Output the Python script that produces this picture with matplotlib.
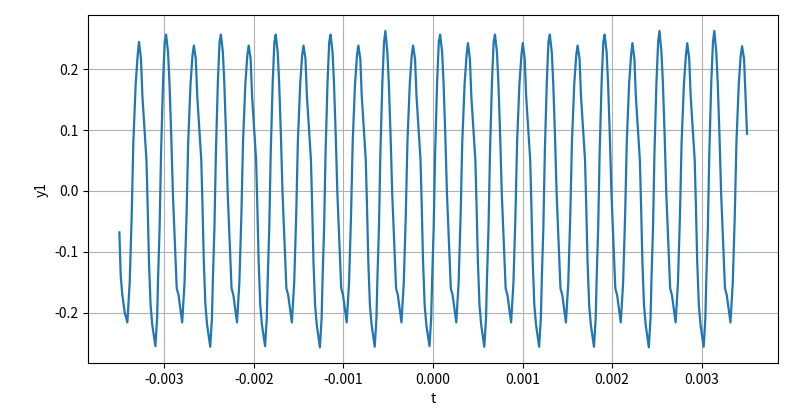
import matplotlib.pyplot as plt
import numpy as np

plt.rcParams['font.family'] = ['Noto Sans CJK SC', 'DejaVu Sans']
plt.rcParams['axes.unicode_minus'] = False

# 时间 (ms), 逐周期读取
t_ms = [
    -3.500, -3.485, -3.467, -3.440,
    -3.411, -3.385, -3.363, -3.344, -3.318, -3.296, -3.281, -3.259, -3.243, -3.214, -3.198, -3.185, -3.170, -3.152, -3.133, -3.098,
    -3.079, -3.068, -3.051, -3.035, -3.013, -2.994, -2.979, -2.957, -2.941, -2.921, -2.903, -2.880, -2.860, -2.840, -2.814,
    -2.799, -2.773, -2.751, -2.732, -2.706, -2.684, -2.669, -2.647, -2.631, -2.602, -2.586, -2.573, -2.558, -2.540, -2.521, -2.486,
    -2.467, -2.456, -2.439, -2.423, -2.401, -2.382, -2.367, -2.345, -2.329, -2.309, -2.291, -2.268, -2.248, -2.228, -2.202,
    -2.187, -2.161, -2.139, -2.120, -2.094, -2.072, -2.057, -2.035, -2.019, -1.990, -1.974, -1.961, -1.946, -1.928, -1.909, -1.874,
    -1.855, -1.844, -1.827, -1.811, -1.789, -1.770, -1.755, -1.733, -1.717, -1.697, -1.679, -1.656, -1.636, -1.616, -1.590,
    -1.575, -1.549, -1.527, -1.508, -1.482, -1.460, -1.445, -1.423, -1.407, -1.378, -1.362, -1.349, -1.334, -1.316, -1.297, -1.262,
    -1.243, -1.232, -1.215, -1.199, -1.177, -1.158, -1.143, -1.121, -1.105, -1.085, -1.067, -1.044, -1.024, -1.004, -0.978,
    -0.963, -0.937, -0.915, -0.896, -0.870, -0.848, -0.833, -0.811, -0.795, -0.766, -0.750, -0.737, -0.722, -0.704, -0.685, -0.650,
    -0.631, -0.620, -0.603, -0.587, -0.565, -0.546, -0.531, -0.509, -0.493, -0.473, -0.455, -0.432, -0.412, -0.392, -0.366,
    -0.352, -0.326, -0.304, -0.285, -0.259, -0.237, -0.222, -0.200, -0.184, -0.155, -0.139, -0.126, -0.111, -0.093, -0.074, -0.039,
    -0.020, -0.009, 0.008, 0.024, 0.046, 0.065, 0.080, 0.102, 0.118, 0.138, 0.156, 0.179, 0.199, 0.219, 0.245,
    0.260, 0.286, 0.308, 0.327, 0.353, 0.375, 0.390, 0.412, 0.428, 0.457, 0.473, 0.486, 0.501, 0.519, 0.538, 0.573,
    0.592, 0.603, 0.620, 0.636, 0.658, 0.677, 0.692, 0.714, 0.730, 0.750, 0.768, 0.791, 0.811, 0.831, 0.857,
    0.872, 0.898, 0.920, 0.939, 0.965, 0.987, 1.002, 1.024, 1.040, 1.069, 1.085, 1.098, 1.113, 1.131, 1.150, 1.185,
    1.204, 1.215, 1.232, 1.248, 1.270, 1.289, 1.304, 1.326, 1.342, 1.362, 1.380, 1.403, 1.423, 1.443, 1.469,
    1.484, 1.510, 1.532, 1.551, 1.577, 1.599, 1.614, 1.636, 1.652, 1.681, 1.697, 1.710, 1.725, 1.743, 1.762, 1.797,
    1.816, 1.827, 1.844, 1.860, 1.882, 1.901, 1.916, 1.938, 1.954, 1.974, 1.992, 2.015, 2.035, 2.055, 2.081,
    2.096, 2.122, 2.144, 2.163, 2.189, 2.211, 2.226, 2.248, 2.264, 2.293, 2.309, 2.322, 2.337, 2.355, 2.374, 2.409,
    2.428, 2.439, 2.456, 2.472, 2.494, 2.513, 2.528, 2.550, 2.566, 2.586, 2.604, 2.627, 2.647, 2.667, 2.693,
    2.708, 2.734, 2.756, 2.775, 2.801, 2.823, 2.838, 2.860, 2.876, 2.905, 2.921, 2.934, 2.949, 2.967, 2.986, 3.021,
    3.040, 3.051, 3.068, 3.084, 3.106, 3.125, 3.140, 3.162, 3.178, 3.198, 3.216, 3.239, 3.259, 3.279, 3.305,
    3.320, 3.346, 3.368, 3.387, 3.413, 3.435, 3.450, 3.472, 3.488, 3.505,
]

y1 = [
    -0.068, -0.140, -0.171, -0.200,
    -0.216, -0.151, -0.043, 0.081, 0.176, 0.223, 0.245, 0.217, 0.156, 0.090, 0.051, -0.021, -0.115, -0.187, -0.220, -0.255,
    -0.209, -0.143, -0.060, 0.062, 0.178, 0.245, 0.257, 0.228, 0.178, 0.090, -0.004, -0.088, -0.160, -0.171, -0.200,
    -0.216, -0.151, -0.043, 0.081, 0.176, 0.223, 0.239, 0.217, 0.156, 0.090, 0.051, -0.021, -0.115, -0.187, -0.220, -0.256,
    -0.209, -0.143, -0.060, 0.062, 0.178, 0.245, 0.257, 0.228, 0.178, 0.090, -0.004, -0.088, -0.160, -0.171, -0.200,
    -0.216, -0.151, -0.043, 0.081, 0.176, 0.223, 0.239, 0.217, 0.156, 0.090, 0.051, -0.021, -0.115, -0.187, -0.220, -0.255,
    -0.209, -0.143, -0.060, 0.062, 0.178, 0.245, 0.257, 0.228, 0.178, 0.090, -0.004, -0.088, -0.160, -0.171, -0.200,
    -0.216, -0.151, -0.043, 0.081, 0.176, 0.223, 0.239, 0.217, 0.156, 0.090, 0.051, -0.021, -0.115, -0.187, -0.220, -0.257,
    -0.209, -0.143, -0.060, 0.062, 0.178, 0.245, 0.257, 0.228, 0.178, 0.090, -0.004, -0.088, -0.160, -0.171, -0.200,
    -0.216, -0.151, -0.043, 0.081, 0.176, 0.223, 0.239, 0.217, 0.156, 0.090, 0.051, -0.021, -0.115, -0.187, -0.220, -0.256,
    -0.209, -0.143, -0.060, 0.062, 0.178, 0.245, 0.263, 0.228, 0.178, 0.090, -0.004, -0.088, -0.160, -0.171, -0.200,
    -0.216, -0.151, -0.043, 0.081, 0.176, 0.223, 0.239, 0.217, 0.156, 0.090, 0.051, -0.021, -0.115, -0.187, -0.220, -0.255,
    -0.209, -0.143, -0.060, 0.062, 0.178, 0.245, 0.257, 0.228, 0.178, 0.090, -0.004, -0.088, -0.160, -0.171, -0.200,
    -0.216, -0.151, -0.043, 0.081, 0.176, 0.223, 0.243, 0.217, 0.156, 0.090, 0.051, -0.021, -0.115, -0.187, -0.220, -0.256,
    -0.209, -0.143, -0.060, 0.062, 0.178, 0.245, 0.257, 0.228, 0.178, 0.090, -0.004, -0.088, -0.160, -0.171, -0.200,
    -0.216, -0.151, -0.043, 0.081, 0.176, 0.223, 0.243, 0.217, 0.156, 0.090, 0.051, -0.021, -0.115, -0.187, -0.220, -0.256,
    -0.209, -0.143, -0.060, 0.062, 0.178, 0.245, 0.257, 0.228, 0.178, 0.090, -0.004, -0.088, -0.160, -0.171, -0.200,
    -0.216, -0.151, -0.043, 0.081, 0.176, 0.223, 0.239, 0.217, 0.156, 0.090, 0.051, -0.021, -0.115, -0.187, -0.220, -0.256,
    -0.209, -0.143, -0.060, 0.062, 0.178, 0.245, 0.257, 0.228, 0.178, 0.090, -0.004, -0.088, -0.160, -0.171, -0.200,
    -0.216, -0.151, -0.043, 0.081, 0.176, 0.223, 0.243, 0.217, 0.156, 0.090, 0.051, -0.021, -0.115, -0.187, -0.220, -0.257,
    -0.209, -0.143, -0.060, 0.062, 0.178, 0.245, 0.263, 0.228, 0.178, 0.090, -0.004, -0.088, -0.160, -0.171, -0.200,
    -0.216, -0.151, -0.043, 0.081, 0.176, 0.223, 0.243, 0.217, 0.156, 0.090, 0.051, -0.021, -0.115, -0.187, -0.220, -0.256,
    -0.209, -0.143, -0.060, 0.062, 0.178, 0.245, 0.263, 0.228, 0.178, 0.090, -0.004, -0.088, -0.160, -0.171, -0.200,
    -0.216, -0.151, -0.043, 0.081, 0.176, 0.223, 0.238, 0.217, 0.156, 0.094,
]

t = np.array(t_ms) * 1e-3  # ms -> s

fig, ax = plt.subplots(figsize=(8, 4.09), dpi=100)
ax.plot(t, y1, color='#1f77b4', linewidth=1.6)
ax.set_xlabel('t')
ax.set_ylabel('y1')
ax.grid(True)

fig.subplots_adjust(left=0.11, right=0.973, top=0.963, bottom=0.112)
fig.savefig('out.png', dpi=100)
